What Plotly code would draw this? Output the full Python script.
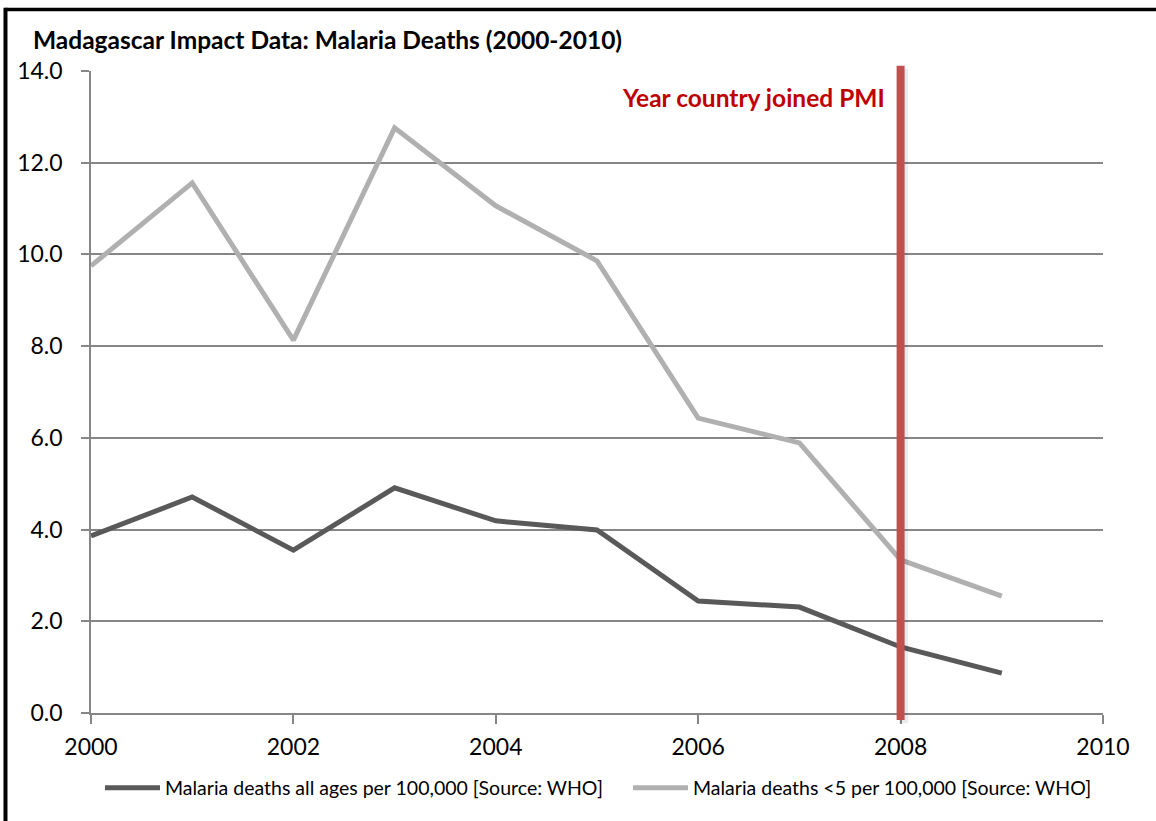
import plotly.graph_objects as go

# Malaria death rates in Madagascar, WHO estimates
years = [2000, 2001, 2002, 2003, 2004, 2005, 2006, 2007, 2008, 2009]
deaths_all_ages = [3.86, 4.71, 3.55, 4.91, 4.19, 3.99, 2.44, 2.31, 1.44, 0.87]
deaths_under5 = [9.75, 11.56, 8.13, 12.76, 11.06, 9.86, 6.43, 5.89, 3.34, 2.55]
series_names = [
    "Malaria deaths all ages per 100,000 [Source: WHO]",
    "Malaria deaths <5 per 100,000 [Source: WHO]",
]
pmi_year = 2008
pmi_label = "Year country joined PMI"
title_text = "Madagascar Impact Data: Malaria Deaths (2000-2010)"
x_ticks = [2000, 2002, 2004, 2006, 2008, 2010]
y_ticks = [0, 2, 4, 6, 8, 10, 12, 14]

FONT = "Lato, Calibri, Carlito, sans-serif"
GRID = "#868686"
W, H = 1156, 821

fig = go.Figure()
fig.add_trace(go.Scatter(
    x=years, y=deaths_all_ages, mode="lines", name=series_names[0],
    line=dict(color="#595959", width=5), legend="legend",
))
fig.add_trace(go.Scatter(
    x=years, y=deaths_under5, mode="lines", name=series_names[1],
    line=dict(color="#b0b0b0", width=5), legend="legend2",
))

# PMI marker: soft shadow, then the red bar
fig.add_shape(type="line", xref="x", yref="paper",
              x0=pmi_year + 0.03, x1=pmi_year + 0.03, y0=-0.016, y1=1.003,
              line=dict(color="rgba(0,0,0,0.08)", width=9), layer="above")
fig.add_shape(type="line", xref="x", yref="paper",
              x0=pmi_year, x1=pmi_year, y0=-0.011, y1=1.008,
              line=dict(color="#c0504d", width=8), layer="above")
fig.add_annotation(
    x=pmi_year - 0.13, y=13.43, xref="x", yref="y", xanchor="right", yanchor="middle",
    text=f"<b>{pmi_label}</b>", showarrow=False,
    font=dict(family=FONT, size=24.5, color="#c00000"),
)

# Frame edges (top and left)
fig.add_shape(type="line", xref="paper", yref="paper",
              x0=-0.0845, x1=1.06, y0=1.0958, y1=1.0958,
              line=dict(color="black", width=3.5))
fig.add_shape(type="line", xref="paper", yref="paper",
              x0=-0.0845, x1=-0.0845, y0=1.0985, y1=-0.2,
              line=dict(color="black", width=4))

legend_common = dict(
    orientation="h", xref="container", yref="container",
    xanchor="left", yanchor="middle", y=1 - 788 / H,
    font=dict(family=FONT, size=19.5, color="black"),
    itemwidth=55, bgcolor="rgba(0,0,0,0)", borderwidth=0,
)

fig.update_layout(
    width=W, height=H,
    margin=dict(l=91, r=53, t=71, b=108, autoexpand=False),
    paper_bgcolor="white", plot_bgcolor="white",
    font=dict(family=FONT, color="black"),
    title=dict(text=f"<b>{title_text}</b>", x=33 / W, xanchor="left",
               y=1 - 40 / H, yanchor="middle",
               font=dict(family=FONT, size=24.5, color="black")),
    showlegend=True,
    legend=dict(x=100 / W, **legend_common),
    legend2=dict(x=628 / W, **legend_common),
)
fig.update_xaxes(
    range=[2000, 2010], tickvals=x_ticks, ticktext=[str(v) for v in x_ticks],
    showgrid=False, zeroline=False, showline=True, linecolor=GRID, linewidth=1.5,
    ticks="outside", ticklen=9, tickcolor=GRID, tickwidth=1.5, ticklabelstandoff=4,
    tickfont=dict(family=FONT, size=23, color="black"),
)
fig.update_yaxes(
    range=[0, 14], tickvals=y_ticks, ticktext=[f"{v:.1f}" for v in y_ticks],
    showgrid=True, gridcolor=GRID, gridwidth=1.5, zeroline=False,
    showline=True, linecolor=GRID, linewidth=1.5,
    ticks="outside", ticklen=8, tickcolor=GRID, tickwidth=1.5, ticklabelstandoff=14,
    tickfont=dict(family=FONT, size=23, color="black"),
)

fig.write_html("out.html")
